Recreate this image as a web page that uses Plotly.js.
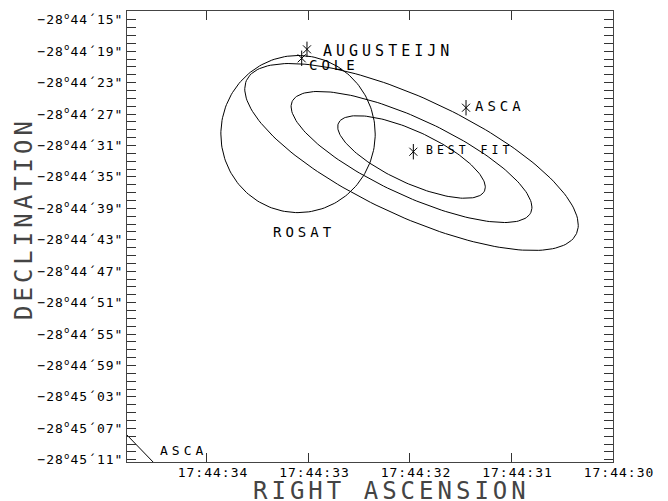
<!DOCTYPE html>
<html>
<head>
<meta charset="utf-8">
<script src="https://cdn.plot.ly/plotly-3.0.1.min.js"></script>
<style>
  html, body { margin: 0; padding: 0; background: #fff; }
  #chart { width: 668px; height: 501px; }
  .xtick text, .ytick text { letter-spacing: 1px; }
  .annotation-text { letter-spacing: 4px; }
</style>
</head>
<body>
<div id="chart"></div>
<script>
// ---- data (RA in seconds of 17h44m, Dec in arcsec south of -28d44m) ----
const raTickValues = [34, 33, 32, 31, 30];
const raTickLabels = ['17:44:34', '17:44:33', '17:44:32', '17:44:31', '17:44:30'];
const decTickSeconds = [15, 19, 23, 27, 31, 35, 39, 43, 47, 51, 55, 59, 63, 67, 71];
const decTickLabels = [
  '−28<sup>o</sup>44´15"', '−28<sup>o</sup>44´19"', '−28<sup>o</sup>44´23"', '−28<sup>o</sup>44´27"',
  '−28<sup>o</sup>44´31"', '−28<sup>o</sup>44´35"', '−28<sup>o</sup>44´39"', '−28<sup>o</sup>44´43"',
  '−28<sup>o</sup>44´47"', '−28<sup>o</sup>44´51"', '−28<sup>o</sup>44´55"', '−28<sup>o</sup>44´59"',
  '−28<sup>o</sup>45´03"', '−28<sup>o</sup>45´07"', '−28<sup>o</sup>45´11"'
];
const xTitle = 'RIGHT ASCENSION';
const yTitle = 'DECLINATION';

// source positions (asterisks)
const sourceNames = ['AUGUSTEIJN', 'COLE', 'ASCA', 'BEST FIT'];
const sourceRA = [33.015, 33.067, 31.448, 31.967];
const sourceDec = [18.77, 19.91, 26.2, 31.80];

// text labels
const labelText = ['AUGUSTEIJN', 'COLE', 'ASCA', 'BEST FIT', 'ROSAT', 'ASCA'];
const labelRA = [32.877, 33.01, 31.375, 31.86, 33.365, 34.485];
const labelDec = [18.98, 20.77, 25.92, 31.52, 42.08, 69.77];

// confidence ellipses (arcsec), common centre
const ellipseCenterRA = 31.985;
const ellipseCenterDec = 32.47;
const ellipseSemiMajor = [10.4, 17.0, 23.5];
const ellipseSemiMinor = [3.3, 4.9, 7.5];
const ellipseTiltDeg = -24.5;

// ROSAT error circle
const rosatRA = 33.103;
const rosatDec = 29.55;
const rosatRadius = 10.0;

// second ASCA error region edge (bottom-left corner)
const ascaEdgeRA = [34.887, 34.433];
const ascaEdgeDec = [66.54, 72.6];

const declinationDeg = -28.74;

// ---- styling ----
const FONT = 'DejaVu Sans Mono, monospace';
const labelFontSizes = [15, 14, 14, 11.5, 14, 13];

// ---- build ----
const secPerArcsecRA = 1 / (15 * Math.cos(declinationDeg * Math.PI / 180));
function ellipseTrace(cRA, cDec, a, b, tiltDeg) {
  const xs = [], ys = [];
  const phi = tiltDeg * Math.PI / 180;
  for (let k = 0; k <= 360; k += 2) {
    const t = k * Math.PI / 180;
    const X = a * Math.cos(t), Y = b * Math.sin(t);
    const Xr = X * Math.cos(phi) - Y * Math.sin(phi);
    const Yr = X * Math.sin(phi) + Y * Math.cos(phi);
    xs.push(cRA - Xr * secPerArcsecRA);
    ys.push(-(cDec - Yr));
  }
  return { x: xs, y: ys, mode: 'lines', type: 'scatter', hoverinfo: 'skip',
           line: { color: '#000', width: 1 }, showlegend: false };
}

const traces = [];
for (let i = 0; i < ellipseSemiMajor.length; i++) {
  traces.push(ellipseTrace(ellipseCenterRA, ellipseCenterDec, ellipseSemiMajor[i], ellipseSemiMinor[i], ellipseTiltDeg));
}
traces.push(ellipseTrace(rosatRA, rosatDec, rosatRadius, rosatRadius, 0));
traces.push({ x: ascaEdgeRA, y: ascaEdgeDec.map(d => -d), mode: 'lines', type: 'scatter',
              line: { color: '#000', width: 1 }, showlegend: false, hoverinfo: 'skip' });
traces.push({ x: sourceRA, y: sourceDec.map(d => -d), text: sourceNames, mode: 'markers', type: 'scatter',
              marker: { symbol: 'x-thin-open', size: 8, color: '#000', line: { color: '#000', width: 1 } }, showlegend: false });
traces.push({ x: sourceRA, y: sourceDec.map(d => -d), text: sourceNames, mode: 'markers', type: 'scatter',
              marker: { symbol: 'line-ns-open', size: 11, color: '#000', line: { color: '#000', width: 1 } }, showlegend: false });

const annotations = labelText.map((t, i) => ({
  x: labelRA[i], y: -labelDec[i], xref: 'x', yref: 'y', text: t, showarrow: false,
  xanchor: 'left', yanchor: 'middle',
  font: { family: FONT, size: labelFontSizes[i], color: '#000' }
}));
// axis titles
annotations.push({
  text: xTitle, xref: 'paper', yref: 'paper', x: 0.545, y: -0.028, xanchor: 'center', yanchor: 'top',
  showarrow: false, font: { family: FONT, size: 24, color: '#444' }
});
annotations.push({
  text: yTitle, xref: 'paper', yref: 'paper', x: -0.212, y: 0.541, xanchor: 'center', yanchor: 'middle',
  textangle: -90, showarrow: false, font: { family: FONT, size: 24, color: '#444' }
});

const axisCommon = {
  showgrid: false, zeroline: false, showline: true, linecolor: '#444', linewidth: 1,
  ticks: 'inside', ticklen: 9, tickcolor: '#333', mirror: 'ticks',
  tickfont: { family: FONT, size: 13, color: '#000' }
};

const layout = {
  width: 668, height: 501,
  margin: { l: 127, r: 55, t: 11, b: 39 },
  paper_bgcolor: '#fff', plot_bgcolor: '#fff',
  showlegend: false,
  xaxis: Object.assign({}, axisCommon, {
    range: [34.788, 30], tickmode: 'array', tickvals: raTickValues, ticktext: raTickLabels,
    ticklabelstandoff: -2, ticklabelshift: -6
  }),
  yaxis: Object.assign({}, axisCommon, {
    range: [-71.29, -13.89], tickmode: 'array', tickvals: decTickSeconds.map(s => -s), ticktext: decTickLabels,
    minor: { dtick: 1, ticks: 'inside', ticklen: 9, tickcolor: '#333', showgrid: false }
  }),
  annotations: annotations
};

Plotly.newPlot('chart', traces, layout, { staticPlot: true, displayModeBar: false });
</script>
</body>
</html>
